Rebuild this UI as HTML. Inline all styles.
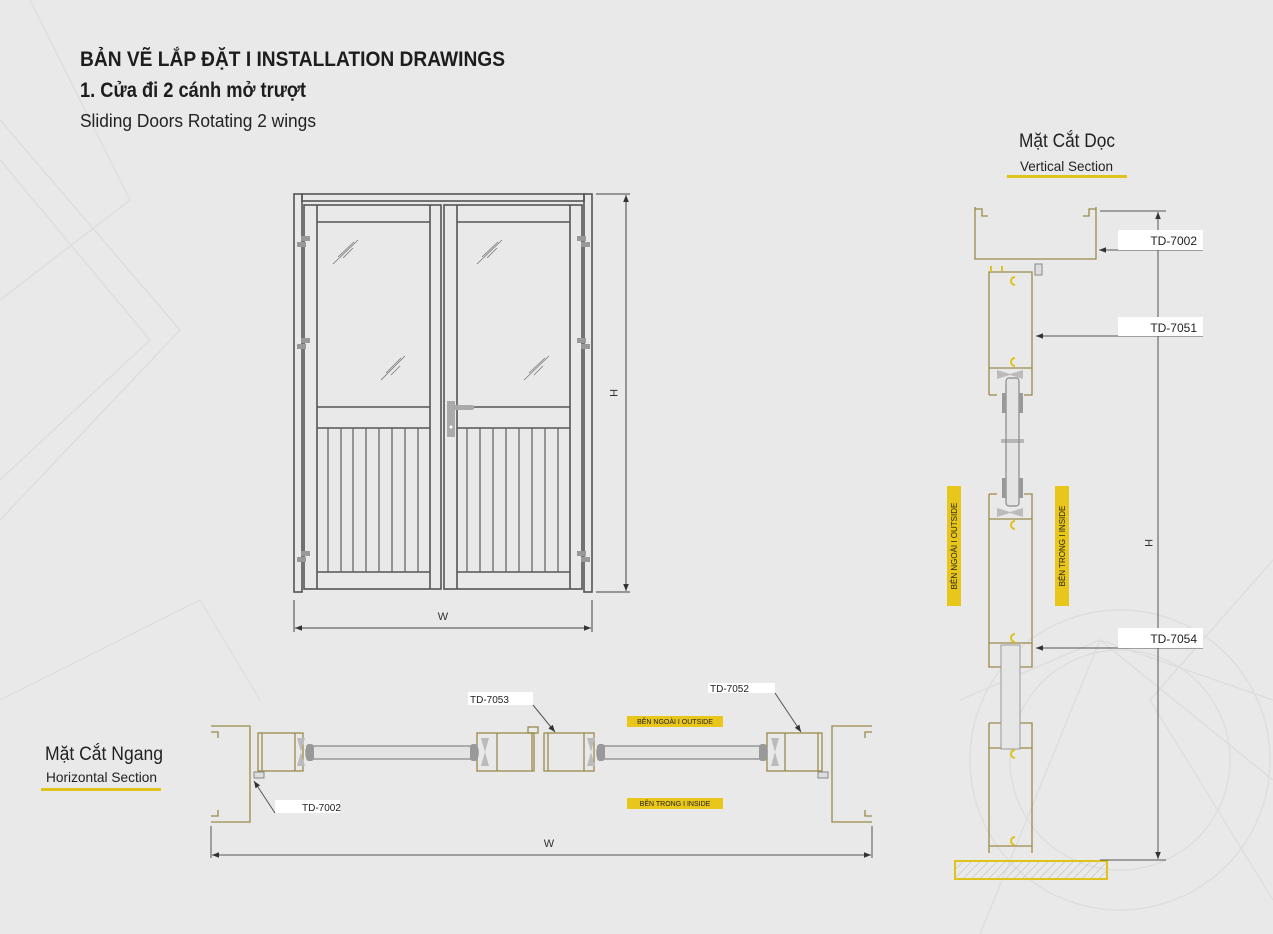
<!DOCTYPE html>
<html><head><meta charset="utf-8"><style>
html,body{margin:0;padding:0;background:#e9e9e9;}
svg{display:block;}
text{font-family:"Liberation Sans Narrow","Liberation Sans","Noto Sans CJK SC",sans-serif;}
</style></head><body>
<svg width="1273" height="934" viewBox="0 0 1273 934" xmlns="http://www.w3.org/2000/svg">
<defs>
<marker id="ar" viewBox="0 0 10 10" refX="10" refY="5" markerWidth="7" markerHeight="7" orient="auto-start-reverse"><path d="M0,1 L10,5 L0,9 z" fill="#333"/></marker>
<pattern id="hatch" width="6" height="6" patternUnits="userSpaceOnUse" patternTransform="rotate(45)"><line x1="0" y1="0" x2="0" y2="6" stroke="#bbb" stroke-width="1"/></pattern>
</defs>
<rect width="1273" height="934" fill="#e9e9e9"/>
<g stroke="#dcdcdc" stroke-width="1.5" fill="none" opacity="0.8">
<path d="M0,120 L180,330 L0,520"/><path d="M0,160 L150,340 L0,480"/><path d="M30,0 L130,200 L0,300"/>
<path d="M0,700 L200,600 L260,700"/><path d="M1273,700 L1100,640 L960,700"/>
<path d="M1273,560 L1150,700 L1273,900"/><path d="M980,934 L1100,640 L1273,780"/>
<circle cx="1120" cy="760" r="110"/><circle cx="1120" cy="760" r="150"/>
</g>

<text x="80" y="66" font-size="21" font-weight="bold" fill="#1d1d1d" textLength="425" lengthAdjust="spacingAndGlyphs">BẢN VẼ LẮP ĐẶT  I  INSTALLATION DRAWINGS</text>
<text x="80" y="97" font-size="21" font-weight="bold" fill="#1d1d1d" textLength="226" lengthAdjust="spacingAndGlyphs">1. Cửa đi 2 cánh mở trượt</text>
<text x="80" y="127" font-size="18" fill="#222" textLength="236" lengthAdjust="spacingAndGlyphs">Sliding Doors Rotating 2 wings</text>

<text x="1019" y="147" font-size="19" fill="#222" textLength="96" lengthAdjust="spacingAndGlyphs">Mặt Cắt Dọc</text>
<text x="1020" y="171" font-size="14" fill="#222" textLength="93" lengthAdjust="spacingAndGlyphs">Vertical Section</text>
<rect x="1007" y="175" width="120" height="3" fill="#e0c21d"/>
<text x="45" y="760" font-size="19" fill="#222" textLength="118" lengthAdjust="spacingAndGlyphs">Mặt Cắt Ngang</text>
<text x="46" y="782" font-size="14" fill="#222" textLength="111" lengthAdjust="spacingAndGlyphs">Horizontal Section</text>
<rect x="41" y="788" width="120" height="3" fill="#e0c21d"/>

<g stroke="#555" stroke-width="1.6" fill="none">
<rect x="294" y="194" width="8" height="398"/>
<rect x="584" y="194" width="8" height="398"/>
<rect x="302" y="194" width="282" height="7"/>
<rect x="304" y="205" width="137" height="384"/>
<rect x="444" y="205" width="138" height="384"/>
<line x1="317" y1="205" x2="317" y2="589"/><line x1="430" y1="205" x2="430" y2="589"/>
<line x1="457" y1="205" x2="457" y2="589"/><line x1="570" y1="205" x2="570" y2="589"/>
<line x1="317" y1="222" x2="430" y2="222"/><line x1="457" y1="222" x2="570" y2="222"/>
<line x1="317" y1="407" x2="430" y2="407"/><line x1="457" y1="407" x2="570" y2="407"/>
<line x1="317" y1="428" x2="430" y2="428"/><line x1="457" y1="428" x2="570" y2="428"/>
<line x1="317" y1="572" x2="430" y2="572"/><line x1="457" y1="572" x2="570" y2="572"/>
</g>
<g stroke="#666" stroke-width="1.3">
<line x1="328" y1="428" x2="328" y2="572"/><line x1="341" y1="428" x2="341" y2="572"/><line x1="353" y1="428" x2="353" y2="572"/><line x1="366" y1="428" x2="366" y2="572"/><line x1="379" y1="428" x2="379" y2="572"/><line x1="392" y1="428" x2="392" y2="572"/><line x1="405" y1="428" x2="405" y2="572"/><line x1="418" y1="428" x2="418" y2="572"/>
<line x1="467" y1="428" x2="467" y2="572"/><line x1="480" y1="428" x2="480" y2="572"/><line x1="493" y1="428" x2="493" y2="572"/><line x1="506" y1="428" x2="506" y2="572"/><line x1="519" y1="428" x2="519" y2="572"/><line x1="532" y1="428" x2="532" y2="572"/><line x1="545" y1="428" x2="545" y2="572"/><line x1="558" y1="428" x2="558" y2="572"/>
</g>
<g stroke="#777" stroke-width="0.8">
<line x1="333" y1="264" x2="358" y2="240"/><line x1="338" y1="257" x2="354" y2="242"/><line x1="343" y1="258" x2="353" y2="248"/>
<line x1="381" y1="380" x2="405" y2="356"/><line x1="386" y1="373" x2="401" y2="358"/><line x1="391" y1="375" x2="400" y2="366"/>
<line x1="477" y1="264" x2="502" y2="240"/><line x1="482" y1="257" x2="498" y2="242"/><line x1="487" y1="258" x2="497" y2="248"/>
<line x1="524" y1="380" x2="549" y2="356"/><line x1="529" y1="373" x2="545" y2="358"/><line x1="534" y1="375" x2="543" y2="366"/>
</g>
<g fill="#999">
<rect x="301" y="236" width="9" height="5"/><rect x="297" y="242" width="9" height="5"/>
<rect x="301" y="338" width="9" height="5"/><rect x="297" y="344" width="9" height="5"/>
<rect x="301" y="551" width="9" height="5"/><rect x="297" y="557" width="9" height="5"/>
<rect x="577" y="236" width="9" height="5"/><rect x="581" y="242" width="9" height="5"/>
<rect x="577" y="338" width="9" height="5"/><rect x="581" y="344" width="9" height="5"/>
<rect x="577" y="551" width="9" height="5"/><rect x="581" y="557" width="9" height="5"/>
<rect x="447" y="401" width="8" height="36" fill="#aaa"/>
<rect x="449" y="405" width="25" height="5" rx="2" fill="#aaa"/>
</g>
<circle cx="451" cy="427" r="1.5" fill="#fff"/>
<g stroke="#444" stroke-width="1" fill="none">
<line x1="596" y1="194" x2="630" y2="194"/><line x1="596" y1="592" x2="630" y2="592"/>
<line x1="626" y1="195" x2="626" y2="591" marker-start="url(#ar)" marker-end="url(#ar)"/>
<line x1="294" y1="600" x2="294" y2="632"/><line x1="592" y1="600" x2="592" y2="632"/>
<line x1="295" y1="628" x2="591" y2="628" marker-start="url(#ar)" marker-end="url(#ar)"/>
</g>
<text x="443" y="620" font-size="11" fill="#333" text-anchor="middle">W</text>
<text x="610" y="393" font-size="11" fill="#333" text-anchor="middle" transform="rotate(90 610 393)">H</text>

<g stroke="#9a8a4a" stroke-width="1.3" fill="none">
<path d="M975,207 V259 H1096 V207 M975,209 H982 V216 H988 M1096,209 H1089 V216 H1083"/>
<path d="M989,395 V272 H1032 V395 H1024 M989,395 H997"/>
<line x1="989" y1="368" x2="1032" y2="368"/>
<path d="M989,494 H997 M1024,494 H1032 V667 H989 V494"/>
<line x1="989" y1="519" x2="1032" y2="519"/>
<line x1="989" y1="643" x2="1032" y2="643"/>
<path d="M989,723 H1032 V853 M989,723 V853"/>
<line x1="989" y1="748" x2="1032" y2="748"/>
<line x1="989" y1="846" x2="1032" y2="846"/>
</g>
<rect x="1001" y="645" width="19" height="104" fill="#e6e6e6" stroke="#999" stroke-width="1"/>
<rect x="1006" y="378" width="13" height="128" rx="3" fill="#e4e4e4" stroke="#888" stroke-width="1.2"/>
<g fill="#999"><rect x="1002" y="393" width="4" height="20"/><rect x="1019" y="393" width="4" height="20"/><rect x="1002" y="478" width="4" height="20"/><rect x="1019" y="478" width="4" height="20"/></g>
<g fill="#bbb"><path d="M997,370 L1010,374 L1023,370 V379 L1010,375 L997,379z"/><path d="M997,508 L1010,512 L1023,508 V517 L1010,513 L997,517z"/></g>
<line x1="1001" y1="442" x2="1024" y2="442" stroke="#888" stroke-width="1"/>
<line x1="1001" y1="440" x2="1024" y2="440" stroke="#888" stroke-width="1"/>
<g stroke="#e0c21d" stroke-width="2" fill="none">
<path d="M1015,277 A4,4 0 1 0 1015,285"/>
<path d="M1015,358 A4,4 0 1 0 1015,366"/>
<path d="M1015,521 A4,4 0 1 0 1015,529"/>
<path d="M1015,634 A4,4 0 1 0 1015,642"/>
<path d="M1015,750 A4,4 0 1 0 1015,758"/>
<path d="M1015,837 A4,4 0 1 0 1015,845"/>
<path d="M991,266 V272 M1002,266 V271"/>
</g>
<rect x="1035" y="264" width="7" height="11" fill="#ddd" stroke="#888" stroke-width="1"/>
<rect x="955" y="861" width="152" height="18" fill="url(#hatch)" stroke="#e0c21d" stroke-width="2"/>
<rect x="947" y="486" width="14" height="120" fill="#e8c61a"/>
<rect x="1055" y="486" width="14" height="120" fill="#e8c61a"/>
<text x="957" y="546" font-size="8" fill="#222" text-anchor="middle" transform="rotate(-90 957 546)">BÊN NGOÀI I OUTSIDE</text>
<text x="1065" y="546" font-size="8" fill="#222" text-anchor="middle" transform="rotate(-90 1065 546)">BÊN TRONG I INSIDE</text>
<g stroke="#555" stroke-width="1" fill="none">
<line x1="1100" y1="211" x2="1166" y2="211"/>
<line x1="1100" y1="860" x2="1166" y2="860"/>
<line x1="1158" y1="212" x2="1158" y2="859" marker-start="url(#ar)" marker-end="url(#ar)"/>
<line x1="1203" y1="250" x2="1099" y2="250" marker-end="url(#ar)"/>
<line x1="1203" y1="336" x2="1036" y2="336" marker-end="url(#ar)"/>
<line x1="1203" y1="648" x2="1036" y2="648" marker-end="url(#ar)"/>
</g>
<rect x="1118" y="230" width="85" height="20" fill="#fff"/>
<rect x="1118" y="317" width="85" height="19" fill="#fff"/>
<rect x="1118" y="628" width="85" height="20" fill="#fff"/>
<text x="1197" y="245" font-size="12" fill="#222" text-anchor="end">TD-7002</text>
<text x="1197" y="332" font-size="12" fill="#222" text-anchor="end">TD-7051</text>
<text x="1197" y="643" font-size="12" fill="#222" text-anchor="end">TD-7054</text>
<text x="1145" y="543" font-size="11" fill="#333" text-anchor="middle" transform="rotate(90 1145 543)">H</text>

<g stroke="#9a8a4a" stroke-width="1.3" fill="none">
<path d="M211,726 H250 V822 H211 M211,732 H218 V738 M211,816 H218 V810"/>
<path d="M872,726 H832 V822 H872 M872,732 H865 V738 M872,816 H865 V810"/>
<rect x="258" y="733" width="45" height="38"/><line x1="262" y1="733" x2="262" y2="771"/><line x1="295" y1="733" x2="295" y2="771"/>
<rect x="477" y="733" width="57" height="38"/><line x1="497" y1="733" x2="497" y2="771"/><line x1="532" y1="733" x2="532" y2="771"/>
<rect x="544" y="733" width="50" height="38"/><line x1="548" y1="733" x2="548" y2="771"/><line x1="584" y1="733" x2="584" y2="771"/>
<rect x="767" y="733" width="55" height="38"/><line x1="785" y1="733" x2="785" y2="771"/><line x1="818" y1="733" x2="818" y2="771"/>
<rect x="528" y="727" width="10" height="6"/>
</g>
<rect x="306" y="746" width="172" height="13" rx="4" fill="#e4e4e4" stroke="#888" stroke-width="1.2"/>
<rect x="597" y="746" width="170" height="13" rx="4" fill="#e4e4e4" stroke="#888" stroke-width="1.2"/>
<g fill="#999"><rect x="306" y="744" width="8" height="17" rx="3"/><rect x="470" y="744" width="8" height="17" rx="3"/><rect x="597" y="744" width="8" height="17" rx="3"/><rect x="759" y="744" width="8" height="17" rx="3"/></g>
<g fill="#bbb"><path d="M297,738 L301,752 L297,766 H305 L301,752 L305,738z"/><path d="M481,738 L485,752 L481,766 H489 L485,752 L489,738z"/><path d="M587,738 L591,752 L587,766 H595 L591,752 L595,738z"/><path d="M771,738 L775,752 L771,766 H779 L775,752 L779,738z"/></g>
<rect x="254" y="772" width="10" height="6" fill="#ddd" stroke="#888"/>
<rect x="818" y="772" width="10" height="6" fill="#ddd" stroke="#888"/>
<rect x="627" y="716" width="96" height="11" fill="#e8c61a"/>
<rect x="627" y="798" width="96" height="11" fill="#e8c61a"/>
<text x="675" y="724" font-size="7" fill="#222" text-anchor="middle">BÊN NGOÀI I OUTSIDE</text>
<text x="675" y="806" font-size="7" fill="#222" text-anchor="middle">BÊN TRONG I INSIDE</text>
<rect x="468" y="692" width="65" height="13" fill="#fff"/>
<rect x="708" y="683" width="67" height="10" fill="#fff"/>
<rect x="275" y="800" width="65" height="13" fill="#fff"/>
<g stroke="#555" stroke-width="1" fill="none">
<line x1="533" y1="705" x2="555" y2="732" marker-end="url(#ar)"/>
<line x1="775" y1="693" x2="801" y2="732" marker-end="url(#ar)"/>
<line x1="275" y1="813" x2="254" y2="781" marker-end="url(#ar)"/>
<line x1="211" y1="826" x2="211" y2="858"/><line x1="872" y1="826" x2="872" y2="858"/>
<line x1="212" y1="855" x2="871" y2="855" marker-start="url(#ar)" marker-end="url(#ar)"/>
</g>
<text x="470" y="703" font-size="10" fill="#222">TD-7053</text>
<text x="710" y="692" font-size="10" fill="#222">TD-7052</text>
<text x="302" y="811" font-size="10" fill="#222">TD-7002</text>
<text x="549" y="847" font-size="11" fill="#333" text-anchor="middle">W</text>
</svg>
</body></html>
